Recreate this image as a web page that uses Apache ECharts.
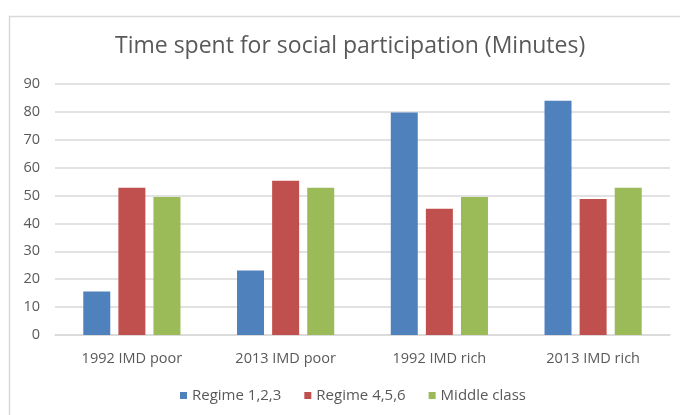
<!DOCTYPE html>
<html>
<head>
<meta charset="utf-8">
<script src="https://cdn.jsdelivr.net/npm/echarts@6/dist/echarts.min.js"></script>
<style>
html,body{margin:0;padding:0;background:#fff;}
#chart{width:680px;height:415px;}
</style>
</head>
<body>
<div id="chart"></div>
<script>
const titleText = 'Time spent for social participation (Minutes)';
const categories = ['1992 IMD poor', '2013 IMD poor', '1992 IMD rich', '2013 IMD rich'];
const seriesNames = ['Regime 1,2,3', 'Regime 4,5,6', 'Middle class'];
const regime123 = [15.6, 23.1, 79.8, 84.0];
const regime456 = [52.8, 55.3, 45.3, 48.8];
const middleClass = [49.5, 52.8, 49.5, 52.8];
const yTicks = [0, 10, 20, 30, 40, 50, 60, 70, 80, 90];

const colors = ['#4F81BD', '#C0504D', '#9BBB59'];
const font = 'Open Sans';
const chart = echarts.init(document.getElementById('chart'), null, {renderer: 'canvas'});
const seriesData = [regime123, regime456, middleClass];

chart.setOption({
  animation: false,
  color: colors,
  graphic: [{
    type: 'rect', left: 7, top: 14, shape: {width: 700, height: 420},
    style: {fill: 'none', stroke: '#d9d9d9', lineWidth: 1.5}, z: -1
  }],
  title: {
    text: titleText, left: 110, top: 30,
    textStyle: {fontFamily: font, fontWeight: 'normal', fontSize: 23, color: '#595959'}
  },
  legend: {
    data: seriesNames, bottom: 7, left: 175,
    icon: 'rect', itemWidth: 7, itemHeight: 7, itemGap: 23,
    textStyle: {fontFamily: font, fontSize: 15, color: '#595959'}
  },
  grid: {left: 55, right: 10, top: 84, bottom: 80},
  xAxis: {
    type: 'category', data: categories,
    axisLine: {show: true, lineStyle: {color: '#d9d9d9', width: 1.5}},
    axisTick: {show: false},
    axisLabel: {fontFamily: font, fontSize: 14.5, color: '#595959', margin: 16}
  },
  yAxis: {
    type: 'value', min: yTicks[0], max: yTicks[yTicks.length - 1], interval: 10,
    axisLine: {show: false}, axisTick: {show: false},
    splitLine: {lineStyle: {color: '#d9d9d9', width: 1.5}},
    axisLabel: {fontFamily: font, fontSize: 14.5, color: '#595959', margin: 15}
  },
  series: seriesNames.map((n, i) => ({
    name: n, type: 'bar', data: seriesData[i], barWidth: 27, barGap: '30%'
  }))
});
</script>
</body>
</html>
